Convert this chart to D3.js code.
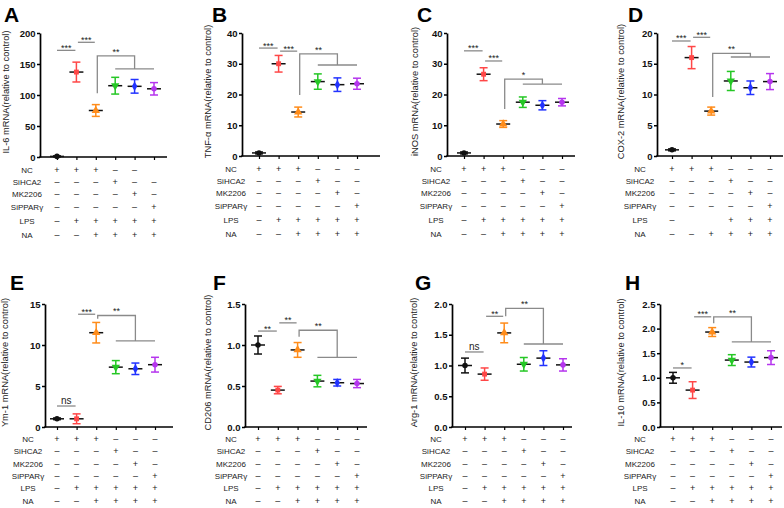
<!DOCTYPE html>
<html><head><meta charset="utf-8">
<script src="https://cdn.jsdelivr.net/npm/d3@7"></script>
<style>
body{margin:0;background:#fff}
svg{display:block;font-family:"Liberation Sans",Arial,sans-serif}
</style>
</head><body>
<svg id="chart" width="784" height="508"></svg>
<script>
// ---------------- DATA ----------------
const groups = ["NC", "LPS", "LPS+NA", "SiHCA2", "MK2206", "SiPPARγ"];
const panelLetters = ["A", "B", "C", "D", "E", "F", "G", "H"];
const yTitles = [
  "IL-6 mRNA(relative to control)",
  "TNF-α mRNA(relative to control)",
  "iNOS mRNA(relative to control)",
  "COX-2 mRNA(relative to control)",
  "Ym-1 mRNA(relative to control)",
  "CD206 mRNA(relative to control)",
  "Arg-1 mRNA(relative to control)",
  "IL-10 mRNA(relative to control)"
];
const yTicks = [
  [0, 50, 100, 150, 200],
  [0, 10, 20, 30, 40],
  [0, 10, 20, 30, 40],
  [0, 5, 10, 15, 20],
  [0, 5, 10, 15],
  [0, 0.5, 1.0, 1.5],
  [0, 0.5, 1.0, 1.5, 2.0],
  [0, 0.5, 1.0, 1.5, 2.0, 2.5]
];
const il6Mean  = [1, 137, 75, 115, 114, 110];
const il6Sd    = [0.8, 16, 9.5, 13.5, 11, 10];
const tnfMean  = [1, 30, 14.3, 24.2, 23.2, 23.5];
const tnfSd    = [0.3, 2.7, 1.6, 2.5, 2.2, 1.8];
const inosMean = [1, 26.6, 10.4, 17.5, 16.5, 17.5];
const inosSd   = [0.3, 2.1, 1.1, 1.7, 1.5, 1.2];
const cox2Mean = [1, 16, 7.3, 12.2, 11.1, 12.1];
const cox2Sd   = [0.15, 1.8, 0.65, 1.55, 1.1, 1.3];
const ym1Mean  = [1, 1, 11.5, 7.3, 7.1, 7.6];
const ym1Sd    = [0.1, 0.6, 1.25, 0.8, 0.7, 0.9];
const cd206Mean= [1, 0.45, 0.94, 0.56, 0.54, 0.53];
const cd206Sd  = [0.11, 0.045, 0.09, 0.07, 0.04, 0.05];
const arg1Mean = [1, 0.86, 1.53, 1.02, 1.12, 1.01];
const arg1Sd   = [0.12, 0.1, 0.16, 0.11, 0.12, 0.1];
const il10Mean = [1, 0.75, 1.93, 1.36, 1.32, 1.41];
const il10Sd   = [0.11, 0.17, 0.09, 0.11, 0.1, 0.14];

// significance: pair lines [from, to, yValue, label]
const sigPairs = [
  [[0, 1, 172, "***"], [1, 2, 185, "***"]],
  [[0, 1, 35.1, "***"], [1, 2, 34.1, "***"]],
  [[0, 1, 34.2, "***"], [1, 2, 30.9, "***"]],
  [[0, 1, 18.7, "***"], [1, 2, 19.3, "***"]],
  [[0, 1, 2.56, "ns"], [1, 2, 13.75, "***"]],
  [[0, 1, 1.17, "**"], [1, 2, 1.27, "**"]],
  [[0, 1, 1.22, "ns"], [1, 2, 1.80, "**"]],
  [[0, 1, 1.2, "*"], [1, 2, 2.24, "***"]]
];
// bracket from group 2 to groups 3-5: [startValue, topValue, lowerValue, label]
const sigBrackets = [
  [103, 163, 142, "**"],
  [19.8, 33.2, 29.6, "**"],
  [15.3, 25, 23.4, "*"],
  [9.6, 16.7, 16.1, "**"],
  [13.2, 13.6, 10.5, "**"],
  [1.10, 1.18, 0.85, "**"],
  [1.80, 1.93, 1.35, "**"],
  [2.11, 2.24, 1.73, "**"]
];

// treatment table
const conditionRows = ["NC", "SiHCA2", "MK2206", "SiPPARγ", "LPS", "NA"];
const conditionMarks = [
  ["+", "+", "+", "–", "–", "–"],
  ["–", "–", "–", "+", "–", "–"],
  ["–", "–", "–", "–", "+", "–"],
  ["–", "–", "–", "–", "–", "+"],
  ["–", "+", "+", "+", "+", "+"],
  ["–", "–", "+", "+", "+", "+"]
];
const conditionMarksA_NC = ["+", "+", "+", "–", "–", ""];
const conditionMarksD_LPS = ["–", "", "", "+", "+", "+"];

// ---------------- STYLE / LAYOUT ----------------
const colors = ["#111111", "#ff4747", "#ff8c1a", "#25c725", "#2233ff", "#b535ee"];
const symbols = [d3.symbolCircle, d3.symbolSquare, d3.symbolTriangle, "tri-down", d3.symbolDiamond, d3.symbolCircle];

const layout = [
  {ax: 40,  end: 167, top: 33,  bot: 157, p0: 57,  p5: 154, lx: 4,   ly: 22,  tx: 5,   cx: 27},
  {ax: 242, end: 380, top: 33,  bot: 156, p0: 259, p5: 357, lx: 212, ly: 22,  tx: 207, cx: 231},
  {ax: 447, end: 575, top: 33,  bot: 156, p0: 464, p5: 562, lx: 417, ly: 22,  tx: 414, cx: 436},
  {ax: 657, end: 783, top: 33,  bot: 156, p0: 672, p5: 770, lx: 628, ly: 22,  tx: 620, cx: 640},
  {ax: 45,  end: 173, top: 304, bot: 427, p0: 57,  p5: 155, lx: 10,  ly: 290, tx: 4,   cx: 28},
  {ax: 245, end: 367, top: 304, bot: 427, p0: 258, p5: 357, lx: 213, ly: 290, tx: 207, cx: 231},
  {ax: 452, end: 572, top: 304, bot: 427, p0: 465, p5: 563, lx: 415, ly: 290, tx: 413, cx: 436},
  {ax: 660, end: 782, top: 304, bot: 427, p0: 673, p5: 771, lx: 625, ly: 290, tx: 620, cx: 640}
];
const rowOffsetsTop = [13, 25, 37, 50, 64, 78];
const rowOffsetsBottom = [12, 24, 37, 49, 61, 74];

const means = [il6Mean, tnfMean, inosMean, cox2Mean, ym1Mean, cd206Mean, arg1Mean, il10Mean];
const sds = [il6Sd, tnfSd, inosSd, cox2Sd, ym1Sd, cd206Sd, arg1Sd, il10Sd];

const svg = d3.select("#chart");

layout.forEach((L, pi) => {
  const g = svg.append("g");
  const ticks = yTicks[pi];
  const y = d3.scaleLinear().domain([0, ticks[ticks.length - 1]]).range([L.bot, L.top]);
  const x = d3.scalePoint().domain(d3.range(6)).range([L.p0, L.p5]);
  const isDec = pi >= 5;

  // panel letter
  g.append("text").attr("x", L.lx).attr("y", L.ly).attr("font-size", 21).attr("font-weight", "bold")
    .attr("fill", "#000").text(panelLetters[pi]);

  // y axis
  const yAxis = d3.axisLeft(y).tickValues(ticks).tickSize(3).tickPadding(1.5).tickSizeOuter(0)
    .tickFormat(isDec ? d3.format(".1f") : d3.format("d"));
  const ya = g.append("g").attr("transform", `translate(${L.ax},0)`).call(yAxis);
  ya.select(".domain").attr("stroke", "#000").attr("stroke-width", 1.7);
  ya.selectAll(".tick line").attr("stroke", "#000").attr("stroke-width", 1.5);
  ya.selectAll(".tick text").attr("font-size", 9.5).attr("font-weight", "bold").attr("fill", "#111")
    .attr("font-family", "'Liberation Sans',Arial,sans-serif");

  // x axis
  const xAxis = d3.axisBottom(x).tickSize(3).tickSizeOuter(0).tickFormat(() => "");
  const xa = g.append("g").attr("transform", `translate(0,${L.bot})`).call(xAxis);
  xa.select(".domain").remove();
  xa.selectAll(".tick line").attr("stroke", "#000").attr("stroke-width", 1.2);
  g.append("line").attr("x1", L.ax - 0.8).attr("x2", L.end).attr("y1", L.bot).attr("y2", L.bot)
    .attr("stroke", "#000").attr("stroke-width", 1.7);

  // y title
  g.append("text")
    .attr("transform", `translate(${L.tx + 3.5},${(L.top + L.bot) / 2 - 3}) rotate(-90)`)
    .attr("text-anchor", "middle").attr("font-size", 9.3).attr("fill", "#222")
    .text(yTitles[pi]);

  // data points
  const m = means[pi], s = sds[pi];
  groups.forEach((grp, i) => {
    const cxp = x(i);
    const c = colors[i];
    const yl = y(m[i] - s[i]), yh = y(m[i] + s[i]), ym = y(m[i]);
    g.append("line").attr("x1", cxp).attr("x2", cxp).attr("y1", yl).attr("y2", yh)
      .attr("stroke", c).attr("stroke-width", 1.5);
    [yl, yh].forEach(yy => g.append("line").attr("x1", cxp - 4).attr("x2", cxp + 4)
      .attr("y1", yy).attr("y2", yy).attr("stroke", c).attr("stroke-width", 1.5));
    g.append("line").attr("x1", cxp - 7).attr("x2", cxp + 7).attr("y1", ym).attr("y2", ym)
      .attr("stroke", "#111").attr("stroke-width", 1.5);
    let sym = symbols[i], rot = 0;
    if (sym === "tri-down") { sym = d3.symbolTriangle; rot = 180; }
    const size = (sym === d3.symbolTriangle) ? 30 : (sym === d3.symbolDiamond ? 26 : 24);
    g.append("path").attr("d", d3.symbol().type(sym).size(size)())
      .attr("transform", `translate(${cxp},${ym}) rotate(${rot})`)
      .attr("fill", c);
  });

  // significance pair lines
  sigPairs[pi].forEach(([a, b, v, lab]) => {
    const yy = y(v);
    const xa1 = x(a) + (a === 0 ? 0 : 1.5), xb1 = x(b) - 1;
    g.append("line").attr("x1", xa1).attr("x2", xb1).attr("y1", yy).attr("y2", yy)
      .attr("stroke", "#8a8a8a").attr("stroke-width", 1.3);
    g.append("text").attr("x", (xa1 + xb1) / 2).attr("y", lab === "ns" ? yy - 2 : yy + 0.5)
      .attr("text-anchor", "middle").attr("font-size", lab === "ns" ? 10 : 9).attr("fill", "#222")
      .text(lab);
  });

  // bracket
  const [v0, vTop, vLow, blab] = sigBrackets[pi];
  const bx0 = x(2) + 1.5, bx1 = x(4);
  g.append("path")
    .attr("d", `M${bx0},${y(v0)}V${y(vTop)}H${bx1}V${y(vLow)}`)
    .attr("fill", "none").attr("stroke", "#8a8a8a").attr("stroke-width", 1.3);
  g.append("line").attr("x1", x(3)).attr("x2", x(5)).attr("y1", y(vLow)).attr("y2", y(vLow))
    .attr("stroke", "#8a8a8a").attr("stroke-width", 1.3);
  g.append("text").attr("x", (bx0 + bx1) / 2).attr("y", y(vTop) - 1)
    .attr("text-anchor", "middle").attr("font-size", 9).attr("fill", "#222").text(blab);

  // treatment table
  const offs = pi < 4 ? rowOffsetsTop : rowOffsetsBottom;
  conditionRows.forEach((row, ri) => {
    const ry = L.bot + offs[ri];
    g.append("text").attr("x", L.cx).attr("y", ry).attr("dy", "0.35em")
      .attr("text-anchor", "middle").attr("font-size", 8).attr("fill", "#222").text(row);
    let marks = conditionMarks[ri];
    if (pi === 0 && ri === 0) marks = conditionMarksA_NC;
    if (pi === 3 && ri === 4) marks = conditionMarksD_LPS;
    marks.forEach((mk, ci) => {
      if (!mk) return;
      g.append("text").attr("x", x(ci)).attr("y", ry).attr("dy", "0.35em")
        .attr("text-anchor", "middle").attr("font-size", 9).attr("fill", "#222").text(mk);
    });
  });
});
</script>
</body></html>
